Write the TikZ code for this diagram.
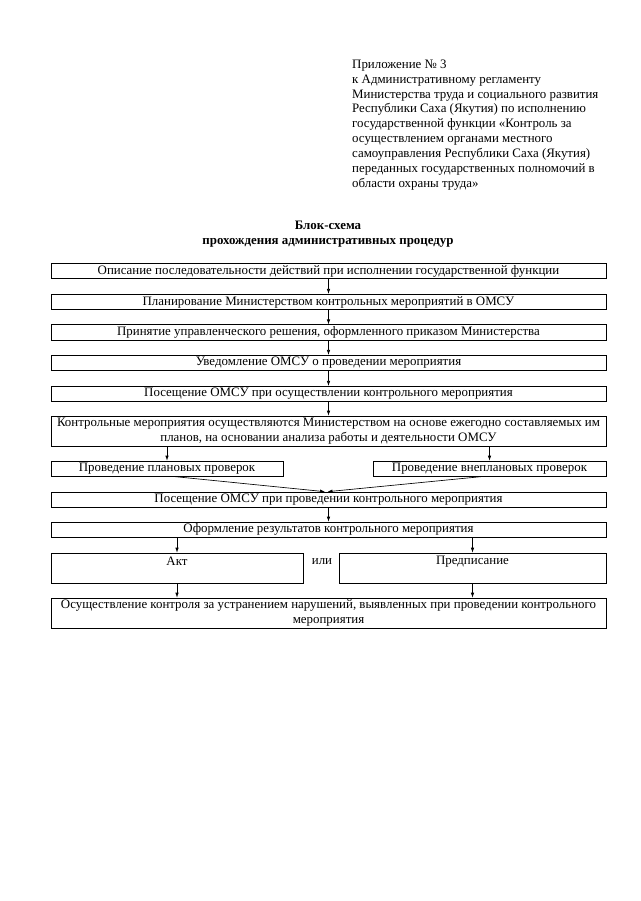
\documentclass[tikz,border=0pt]{standalone}
\usepackage{fontspec}
\setmainfont{Liberation Serif}
\usetikzlibrary{arrows.meta}

\begin{document}
\begin{tikzpicture}[x=1pt, y=-1pt,
  box/.style={draw, line width=0.65pt, inner sep=0pt, minimum height=15.5pt,
    align=center, font=\fontsize{12.9}{14.5}\selectfont},
  arr/.style={-{Latex[length=5pt,width=3.5pt]}, line width=0.65pt}]
  \useasboundingbox (0,0) rectangle (640,901);
  \def\bx{328.5}
  \def\bw{555pt}
  % appendix note and heading
  \node[anchor=north west, inner sep=0pt, align=left,
    font=\fontsize{12.9}{14.9}\selectfont] (note) at (352,59.5)
    {Приложение № 3\\к Административному регламенту\\Министерства труда и социального развития\\Республики Саха (Якутия) по исполнению\\государственной функции «Контроль за\\осуществлением органами местного\\самоуправления Республики Саха (Якутия)\\переданных государственных полномочий в\\области охраны труда»};
  \node[anchor=north, inner sep=0pt, align=center,
    font=\bfseries\fontsize{12.9}{14.5}\selectfont] (title) at (328,221)
    {Блок-схема\\прохождения административных процедур};
  % boxes
  \node[box, minimum width=\bw] (b1) at (\bx,271) {Описание последовательности действий при исполнении государственной функции};
  \node[box, minimum width=\bw] (b2) at (\bx,302) {Планирование Министерством контрольных мероприятий в ОМСУ};
  \node[box, minimum width=\bw] (b3) at (\bx,332.5) {Принятие управленческого решения, оформленного приказом Министерства};
  \node[box, minimum width=\bw] (b4) at (\bx,363) {Уведомление ОМСУ о проведении мероприятия};
  \node[box, minimum width=\bw] (b5) at (\bx,394) {Посещение ОМСУ при осуществлении контрольного мероприятия};
  \node[box, minimum width=\bw, minimum height=30pt] (b6) at (\bx,431)
    {Контрольные мероприятия осуществляются Министерством на основе ежегодно составляемых им\\планов, на основании анализа работы и деятельности ОМСУ};
  \node[box, minimum width=232pt, minimum height=15pt] (b7a) at (167,468.5) {Проведение плановых проверок};
  \node[box, minimum width=233pt, minimum height=15pt] (b7b) at (489.5,468.5) {Проведение внеплановых проверок};
  \node[box, minimum width=\bw, minimum height=15pt] (b8) at (\bx,499.5) {Посещение ОМСУ при проведении контрольного мероприятия};
  \node[box, minimum width=\bw, minimum height=15pt] (b9) at (\bx,529.5) {Оформление результатов контрольного мероприятия};
  \node[box, minimum width=252pt, minimum height=30pt] (b10a) at (177,568) {Акт\\\mbox{}};
  \node[box, minimum width=267pt, minimum height=30pt] (b10b) at (472.5,568) {Предписание\\\mbox{}};
  \node[anchor=base, inner sep=0pt, font=\fontsize{12.9}{14.5}\selectfont] (ili) at (322,564.5) {или};
  \node[box, minimum width=\bw, minimum height=30pt] (b11) at (\bx,613)
    {Осуществление контроля за устранением нарушений, выявленных при проведении контрольного\\мероприятия};
  % arrows
  \foreach \a/\b in {b1/b2,b2/b3,b3/b4,b4/b5,b5/b6,b8/b9}
    \draw[arr] (\a.south) -- (\b.north);
  \draw[arr] (b6.south -| b7a.north) -- (b7a.north);
  \draw[arr] (b6.south -| b7b.north) -- (b7b.north);
  \draw[arr] ([xshift=5pt]b7a.south) -- ([xshift=-3.5pt]b8.north);
  \draw[arr] ([xshift=-5pt]b7b.south) -- ([xshift=-1pt]b8.north);
  \draw[arr] (b9.south -| b10a.north) -- (b10a.north);
  \draw[arr] (b9.south -| b10b.north) -- (b10b.north);
  \draw[arr] (b10a.south) -- (b10a.south |- b11.north);
  \draw[arr] (b10b.south) -- (b10b.south |- b11.north);
\end{tikzpicture}
\end{document}
